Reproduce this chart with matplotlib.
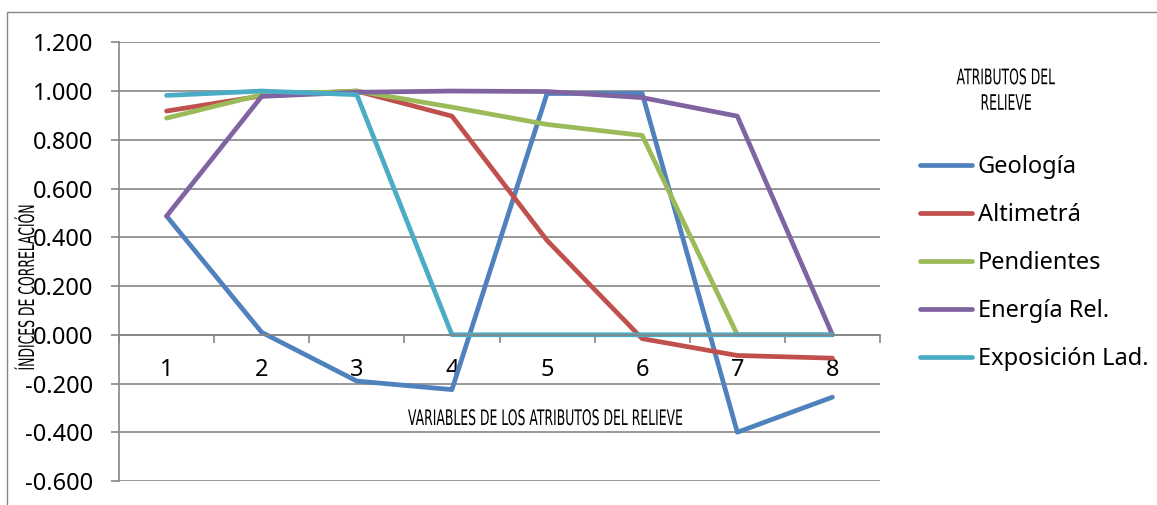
import matplotlib
matplotlib.use("Agg")
import matplotlib.pyplot as plt
from matplotlib.ticker import FixedLocator, FuncFormatter
from matplotlib.patches import Rectangle
from matplotlib.patheffects import AbstractPathEffect
from matplotlib.transforms import Affine2D

# ---- data -------------------------------------------------------------
categories = [1, 2, 3, 4, 5, 6, 7, 8]
geologia = [0.487, 0.010, -0.190, -0.225, 0.990, 0.990, -0.400, -0.256]
altimetra = [0.918, 0.980, 1.000, 0.897, 0.387, -0.016, -0.085, -0.096]
pendientes = [0.889, 0.985, 1.000, 0.934, 0.863, 0.818, 0.000, 0.000]
energia = [0.487, 0.978, 0.995, 1.000, 0.998, 0.973, 0.897, 0.000]
exposicion = [0.982, 1.000, 0.985, 0.000, 0.000, 0.000, 0.000, 0.000]
series_names = ["Geología", "Altimetrá", "Pendientes", "Energía Rel.", "Exposición Lad."]
series_values = [geologia, altimetra, pendientes, energia, exposicion]
series_colors = ["#4F81BD", "#C0504D", "#9BBB59", "#8064A2", "#4BACC6"]
y_ticks = [-0.6, -0.4, -0.2, 0.0, 0.2, 0.4, 0.6, 0.8, 1.0, 1.2]

x_title = "VARIABLES DE LOS ATRIBUTOS DEL RELIEVE"
y_title = "ÍNDICES DE CORRELACIÓN"
legend_title = "ATRIBUTOS DEL\nRELIEVE"


class Condense(AbstractPathEffect):
    """Draw text glyphs narrowed horizontally about each line's centre."""

    def __init__(self, sx):
        super().__init__()
        self.sx = sx

    def draw_path(self, renderer, gc, tpath, affine, rgbFace=None):
        ext = tpath.get_extents()
        cx = 0.5 * (ext.x0 + ext.x1)
        squeeze = Affine2D().translate(-cx, 0).scale(self.sx, 1).translate(cx, 0)
        renderer.draw_path(gc, tpath, squeeze + affine, rgbFace)


GRID = "#868686"
W, H = 1157, 505
fig = plt.figure(figsize=(W / 100, H / 100), dpi=100)
ax = fig.add_axes([119 / W, (H - 481) / H, 761 / W, 438.7 / H])

for name, vals, col in zip(series_names, series_values, series_colors):
    ax.plot(categories, vals, color=col, lw=3.4, label=name,
            solid_capstyle="round", solid_joinstyle="round")

ax.set_xlim(0.5, 8.5)
ax.set_ylim(-0.6, 1.2)

# y axis
ax.yaxis.set_major_locator(FixedLocator(y_ticks))
ax.yaxis.set_major_formatter(FuncFormatter(lambda v, p: f"{v:.3f}"))
ax.yaxis.grid(True, color=GRID, lw=1.2)
ax.set_axisbelow(True)
ax.tick_params(axis="y", which="major", length=5.8, width=1.2, color=GRID,
               pad=13, labelsize=17, labelcolor="black")

# x axis crosses at zero
for s in ("top", "right"):
    ax.spines[s].set_visible(False)
ax.spines["left"].set_color(GRID)
ax.spines["left"].set_linewidth(1.2)
ax.spines["bottom"].set_position(("data", 0))
ax.spines["bottom"].set_color(GRID)
ax.spines["bottom"].set_linewidth(1.2)
ax.set_xticks(categories)
ax.set_xticklabels([str(c) for c in categories])
ax.set_xticks([c - 0.5 for c in categories] + [categories[-1] + 0.5], minor=True)
ax.tick_params(axis="x", which="major", length=0, pad=17, labelsize=17,
               labelcolor="black")
ax.tick_params(axis="x", which="minor", length=5.8, width=1.2, color=GRID,
               direction="out")

for lab in ax.get_xticklabels() + ax.get_yticklabels():
    lab.set_fontfamily("Noto Sans")

cond = dict(family="DejaVu Sans", size=15.4, color="black")

ax.set_xlabel(x_title, va="center", ha="center", **cond,
              path_effects=[Condense(0.58)])
ax.xaxis.set_label_coords((546 - 119) / 761, (481 - 419) / 438.7)
ax.set_ylabel(y_title, va="center", ha="center", **cond,
              path_effects=[Condense(0.58)])
ax.yaxis.set_label_coords((28 - 119) / 761, (481 - 287) / 438.7)

fig.text(1006 / W, (H - 91) / H, legend_title, ha="center", va="center",
         multialignment="center", linespacing=1.35, **cond,
         path_effects=[Condense(0.58)])

ax.legend(loc="upper left", bbox_to_anchor=(920 / W, (H - 155) / H),
          bbox_transform=fig.transFigure, frameon=False, borderpad=0,
          borderaxespad=0, handlelength=2.2, handletextpad=0.25,
          labelspacing=1.02, prop={"family": "Noto Sans", "size": 17})

# chart area border
fig.add_artist(Rectangle((7 / W, -0.1), 2, (H - 12) / H + 0.1,
                         transform=fig.transFigure, fill=False, ec=GRID, lw=1.0))

fig.savefig("out.png", dpi=100)
